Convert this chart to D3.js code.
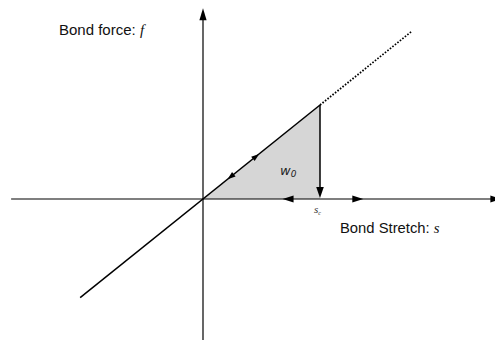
<!DOCTYPE html>
<html>
<head>
<meta charset="utf-8">
<script src="https://cdn.jsdelivr.net/npm/d3@7"></script>
<style>
  html, body { margin: 0; padding: 0; background: #fff; }
  svg { display: block; }
</style>
</head>
<body>
<svg id="chart" width="495" height="342"></svg>
<script>
// Linear bond law f = k * s, with energy w0 stored up to the critical stretch s_c
const stiffness = 1.0;
const criticalStretch = 1.0;
const stretchDomain = [-1.64, 2.55];    // extent of the horizontal (stretch) axis
const forceDomain = [-1.5, 2.03];       // extent of the vertical (force) axis
const solidStretch = [-1.05, criticalStretch];   // elastic branch drawn solid
const dottedStretch = [criticalStretch, 1.78];   // hypothetical continuation, dotted
// Arrowheads: position in stretch along a path, and which way they point
const loadArrows = [
  { s: 0.48, along: "law", dir: 1 },
  { s: 0.21, along: "law", dir: -1 }
];
const axisArrows = [
  { s: 0.68, dir: -1 },
  { s: 1.37, dir: 1 }
];
const labels = {
  force: ["Bond force: ", "f"],
  stretch: ["Bond Stretch: ", "s"],
  energy: ["w", "0"],
  critical: ["s", "c"]
};

const svg = d3.select("#chart");
const x = d3.scaleLinear().domain([0, 1]).range([203, 320]);
const y = d3.scaleLinear().domain([0, 1]).range([199, 105]);
const force = s => stiffness * s;

// Shaded triangle: area under the law up to s_c
svg.append("path")
  .datum([[0, 0], [criticalStretch, force(criticalStretch)], [criticalStretch, 0]])
  .attr("d", d => d3.line().x(p => x(p[0])).y(p => y(p[1]))(d) + "Z")
  .attr("fill", "#d6d6d6")
  .attr("stroke", "none");

// Axes
svg.append("line")
  .attr("x1", x(stretchDomain[0])).attr("x2", x(stretchDomain[1]) - 4)
  .attr("y1", y(0)).attr("y2", y(0))
  .attr("stroke", "#000").attr("stroke-width", 1.2);
svg.append("line")
  .attr("x1", x(0)).attr("x2", x(0))
  .attr("y1", y(forceDomain[0])).attr("y2", y(forceDomain[1]) + 4)
  .attr("stroke", "#000").attr("stroke-width", 1.2);

// Bond law: solid branch and dotted extension
const lawLine = d3.line().x(s => x(s)).y(s => y(force(s)));
svg.append("path")
  .attr("d", lawLine(solidStretch))
  .attr("fill", "none").attr("stroke", "#000").attr("stroke-width", 1.5);
svg.append("path")
  .attr("d", lawLine(dottedStretch))
  .attr("fill", "none").attr("stroke", "#000").attr("stroke-width", 1.8)
  .attr("stroke-dasharray", "1.6,1.6");

// Unloading drop at s_c
svg.append("line")
  .attr("x1", x(criticalStretch)).attr("x2", x(criticalStretch))
  .attr("y1", y(force(criticalStretch))).attr("y2", y(0) - 8)
  .attr("stroke", "#000").attr("stroke-width", 1.5);

// Arrowhead helper: tip at (tx, ty), pointing along angle (radians)
function arrowHead(tx, ty, angle, len, half) {
  const c = Math.cos(angle), s = Math.sin(angle);
  const bx = tx - c * len, by = ty - s * len;
  return `M${tx},${ty}L${bx - s * half},${by + c * half}L${bx + s * half},${by - c * half}Z`;
}
const heads = svg.append("g").attr("fill", "#000");

// Vertical axis tip
heads.append("path").attr("d", arrowHead(x(0), y(forceDomain[1]), -Math.PI / 2, 12, 3.6));
// Horizontal axis tip
heads.append("path").attr("d", arrowHead(x(stretchDomain[1]), y(0), 0, 11, 3.6));
// Drop arrow at s_c
heads.append("path").attr("d", arrowHead(x(criticalStretch), y(0) - 1, Math.PI / 2, 11, 3.8));
// Arrows along the law
const lawAngle = Math.atan2(y(1) - y(0), x(1) - x(0));
loadArrows.forEach(a => {
  const ang = a.dir > 0 ? lawAngle : lawAngle + Math.PI;
  heads.append("path").attr("d", arrowHead(x(a.s), y(force(a.s)), ang, 8, 2.8));
});
// Arrows on the stretch axis
axisArrows.forEach(a => {
  heads.append("path").attr("d", arrowHead(x(a.s), y(0), a.dir > 0 ? 0 : Math.PI, 11, 3.6));
});

// Text labels
function mixedLabel(px, py, parts, size) {
  const t = svg.append("text").attr("x", px).attr("y", py)
    .attr("font-size", size).attr("fill", "#111");
  t.append("tspan").attr("font-family", "'Liberation Sans', Arial, sans-serif").text(parts[0]);
  t.append("tspan").attr("font-family", "'Liberation Serif', 'Times New Roman', serif")
    .attr("font-style", "italic").text(parts[1]);
  return t;
}
mixedLabel(59, 34.5, labels.force, 15);
mixedLabel(340, 233, labels.stretch, 14.8);

// w0 inside the triangle
const w = svg.append("text").attr("x", 280).attr("y", 175)
  .attr("font-family", "'DejaVu Sans', sans-serif").attr("font-style", "italic")
  .attr("font-size", 13).attr("fill", "#222");
w.append("tspan").text(labels.energy[0]);
w.append("tspan").attr("font-size", 9).attr("dy", 2).text(labels.energy[1]);

// s_c below the axis
const sc = svg.append("text").attr("x", 314).attr("y", 213)
  .attr("font-family", "'Liberation Serif', serif").attr("font-style", "italic")
  .attr("font-size", 11).attr("fill", "#333");
sc.append("tspan").text(labels.critical[0]);
sc.append("tspan").attr("font-size", 6).attr("dy", 2).text(labels.critical[1]);
</script>
</body>
</html>
